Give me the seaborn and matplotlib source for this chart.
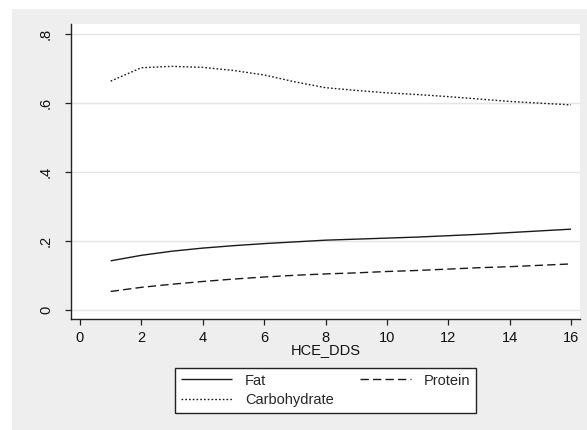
import numpy as np
import pandas as pd
import seaborn as sns
import matplotlib.pyplot as plt
from matplotlib.patches import Rectangle

# data
hce_dds = list(range(1, 17))
fat = [0.142, 0.158, 0.170, 0.179, 0.186, 0.192, 0.197, 0.202,
       0.205, 0.208, 0.211, 0.215, 0.219, 0.224, 0.229, 0.234]
protein = [0.053, 0.065, 0.074, 0.082, 0.089, 0.095, 0.100, 0.104,
           0.107, 0.111, 0.114, 0.118, 0.122, 0.125, 0.129, 0.133]
carbohydrate = [0.664, 0.703, 0.707, 0.704, 0.695, 0.682, 0.662, 0.645,
                0.637, 0.630, 0.625, 0.619, 0.612, 0.605, 0.600, 0.595]
x_ticks = [0, 2, 4, 6, 8, 10, 12, 14, 16]
y_ticks = [0, 0.2, 0.4, 0.6, 0.8]
y_tick_labels = ['0', '.2', '.4', '.6', '.8']

df = pd.DataFrame({'HCE_DDS': hce_dds, 'Fat': fat,
                   'Protein': protein, 'Carbohydrate': carbohydrate})

sns.set_style('white')
plt.rcParams['font.family'] = ['Liberation Sans', 'DejaVu Sans']

fig = plt.figure(figsize=(5.87, 4.30), dpi=100, facecolor='white')
# stata-like gray graph region (drawn behind the axes)
bg = fig.add_axes([0, 0, 1, 1], zorder=-1)
bg.axis('off')
bg.add_patch(Rectangle((12 / 587, 0), 1, 1 - 9 / 430, transform=bg.transAxes,
                       facecolor='#eeeeee', edgecolor='none'))

ax = fig.add_axes([71 / 587, 1 - 319 / 430, (580 - 71) / 587, (319 - 24) / 430], zorder=1)
ax.set_facecolor('white')

styles = {'Fat': (0, ()), 'Protein': (0, (6, 3)), 'Carbohydrate': (0, (1.2, 1.5))}
lines = {}
for name in ['Fat', 'Protein', 'Carbohydrate']:
    sns.lineplot(data=df, x='HCE_DDS', y=name, ax=ax, color='#1a1a1a',
                 linewidth=1.0, label=name)
    ln = ax.get_lines()[-1]
    ln.set_linestyle(styles[name])
    lines[name] = ln

ax.set_xlim(-0.293, 16.293)
ax.set_ylim(-0.027, 0.83)
ax.set_xticks(x_ticks)
ax.set_yticks(y_ticks)
ax.set_yticklabels(y_tick_labels, rotation=90, va='center')
ax.yaxis.grid(True, color='#e4e4e4', linewidth=1.0)
ax.xaxis.grid(False)
ax.set_axisbelow(True)

for s in ['top', 'right']:
    ax.spines[s].set_visible(False)
for s in ['left', 'bottom']:
    ax.spines[s].set_color('#222222')
    ax.spines[s].set_linewidth(1.0)

ax.tick_params(axis='both', which='major', direction='out', length=4,
               width=0.9, color='#222222', labelsize=10.5, labelcolor='#111111',
               bottom=True, left=True)
ax.tick_params(axis='x', pad=4.5)
ax.tick_params(axis='y', pad=9)
ax.set_xlabel('HCE_DDS', fontsize=10.5, labelpad=-1, color='#111111')
ax.set_ylabel('')

ax.get_legend().remove()
leg = fig.legend([lines['Fat'], lines['Carbohydrate'], lines['Protein']],
                 ['Fat', 'Carbohydrate', 'Protein'],
                 ncol=2, loc='center', bbox_to_anchor=(325.5 / 587, 1 - 390.5 / 430),
                 bbox_transform=fig.transFigure, fontsize=10.5, frameon=True,
                 fancybox=False, edgecolor='#222222', framealpha=1,
                 handlelength=3.5, handletextpad=0.9, columnspacing=1.8,
                 labelspacing=0.4, borderpad=0.4, borderaxespad=0)
leg.get_frame().set_linewidth(1.0)

plt.savefig('out.png', dpi=100)
